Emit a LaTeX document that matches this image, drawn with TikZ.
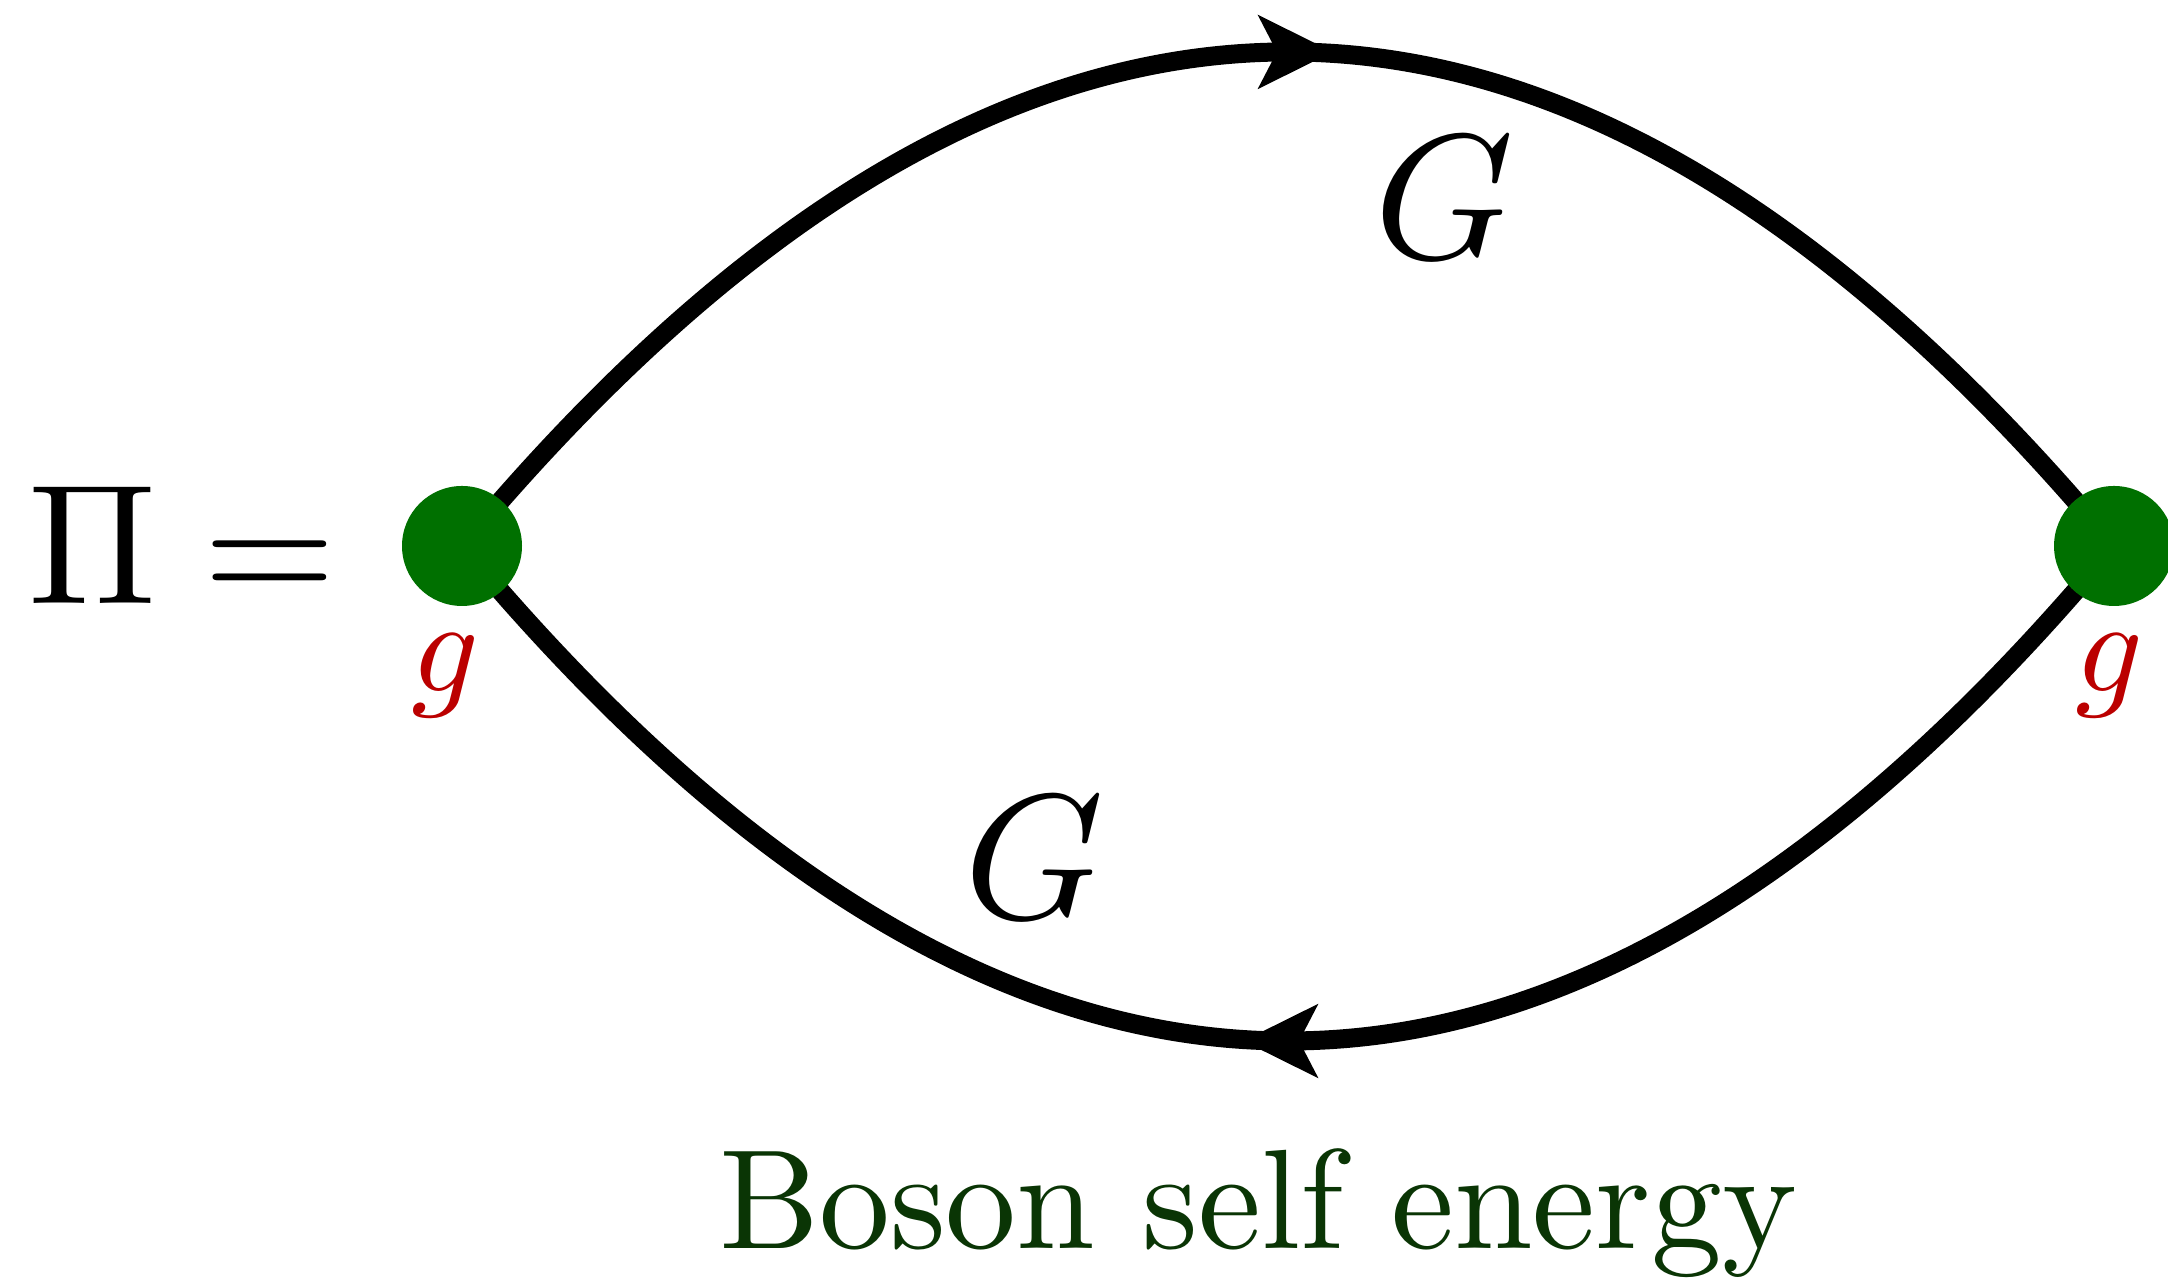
\documentclass[tikz,border=0pt]{standalone}
\usepackage{tikz}
\usetikzlibrary{arrows.meta,decorations.markings,backgrounds}
\definecolor{vtxgreen}{RGB}{0,112,0}
\definecolor{cplred}{RGB}{187,0,0}
\definecolor{capgreen}{RGB}{10,53,5}

\begin{document}
\begin{tikzpicture}[
  every node/.style={inner sep=0pt},
  vertex/.style={circle, fill=vtxgreen, minimum size=1.2cm},
  prop/.style={line width=0.19cm, postaction={decorate},
    decoration={markings, mark=at position 0.5 with {\arrow[xshift=0.45cm]{Stealth[length=7.4mm,width=7.2mm,inset=1.8mm]}}}}]
\useasboundingbox (0,0) rectangle (21.68,12.8);
\node[vertex] (v1) at (4.62,7.34) {};
\node[vertex] (v2) at (21.14,7.34) {};
\begin{scope}[on background layer]
\draw[prop] (v1.center) .. controls +(5.507,6.587) and +(-5.507,6.587) .. (v2.center);
\draw[prop] (v2.center) .. controls +(-5.507,-6.6) and +(5.507,-6.6) .. (v1.center);
\end{scope}
\node[anchor=base west, scale=4.86] (pi) at (0.25,6.76) {$\Pi =$};
\node[anchor=base, scale=5.06] (gtop) at (14.44,10.21) {$G$};
\node[anchor=base, scale=5.06] (gbot) at (10.34,3.61) {$G$};
\node[anchor=base, text=cplred, scale=3.78] (g1) at (4.46,5.88) {$g$};
\node[anchor=base, text=cplred, scale=3.78] (g2) at (21.10,5.88) {$g$};
\node[anchor=base, text=capgreen, scale=4.03] (cap) at (12.58,0.31) {Boson self energy};
\end{tikzpicture}
\end{document}
